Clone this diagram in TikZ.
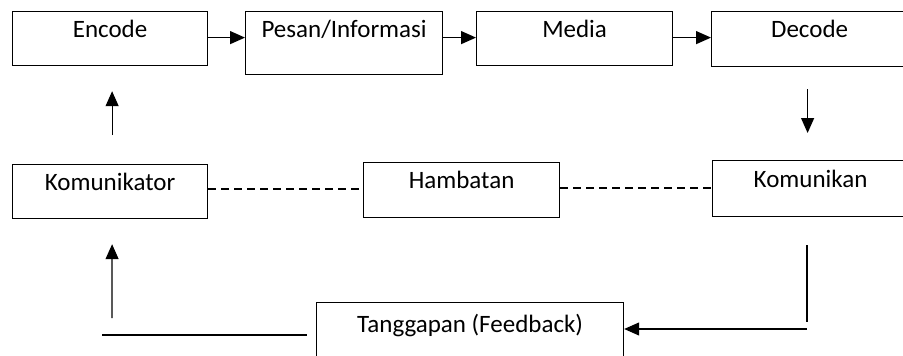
\documentclass[tikz,border=0pt]{standalone}
\usepackage{fontspec}
\setmainfont{Carlito}
\usetikzlibrary{arrows.meta}

\begin{document}
\begin{tikzpicture}[x=1pt,y=-1pt,font=\fontsize{25}{30}\selectfont,
  kotak/.style={draw, line width=1.2pt, anchor=north west, inner sep=0pt, text height=26pt, text depth=28pt},
  panah/.style={-{Triangle[length=15pt,width=13pt]}, line width=1.2pt},
  garis/.style={line width=1.2pt},
  putus/.style={line width=1.2pt, dash pattern=on 8pt off 5pt}]
\useasboundingbox (0,0) rectangle (903,356);
\fill[white] (0,0) rectangle (903,356);
\clip (0,0) rectangle (903,356);

\node[kotak, minimum width=195pt] (enc) at (12,11) {Encode};
\node[kotak, minimum width=197pt, text depth=37pt] (pesan) at (245,11) {Pesan/Informasi};
\node[kotak, minimum width=196pt] (media) at (476,11) {Media};
\node[kotak, minimum width=196pt, text depth=29pt] (dec) at (711,11) {Decode};

\node[kotak, minimum width=195pt] (komtor) at (12,164) {Komunikator};
\node[kotak, minimum width=196pt, text depth=29pt] (hamb) at (363,162) {Hambatan};
\node[kotak, minimum width=196pt, text height=27pt, text depth=29pt] (komkan) at (712,160) {Komunikan};
\node[kotak, minimum width=307pt, text height=30pt, text depth=80pt] (tang) at (316,302) {Tanggapan (Feedback)};

\draw[panah] (enc.base east) -- (pesan.base west);
\draw[panah] (pesan.base east) -- (media.base west);
\draw[panah] (media.base east) -- (dec.base west);

\draw[panah] ([xshift=-2pt,yshift=-22pt]dec.south) -- ([xshift=-3pt,yshift=27pt]komkan.north);
\draw[panah] ([xshift=2pt,yshift=29pt]komtor.north) -- ([xshift=2pt,yshift=-25pt]enc.south);

\draw[putus] (komtor.east |- 0,189) -- (hamb.west |- 0,189);
\draw[putus] (hamb.east |- 0,188) -- (komkan.west |- 0,188);

\coordinate (fbAtas) at (807,245);
\coordinate (fbBawah) at (807,322);
\coordinate (fbKanan) at (807,329);
\draw[garis] (fbAtas) -- (fbBawah);
\draw[panah] (fbKanan) -- (tang.east |- fbKanan);

\coordinate (kiriUjung) at (102,335);
\coordinate (kiriBawah) at (112,318);
\draw[garis] (kiriUjung) -- ([xshift=-9pt]tang.west |- kiriUjung);
\draw[panah] (kiriBawah) -- ([xshift=2pt,yshift=-25pt]komtor.south);

\end{tikzpicture}
\end{document}
